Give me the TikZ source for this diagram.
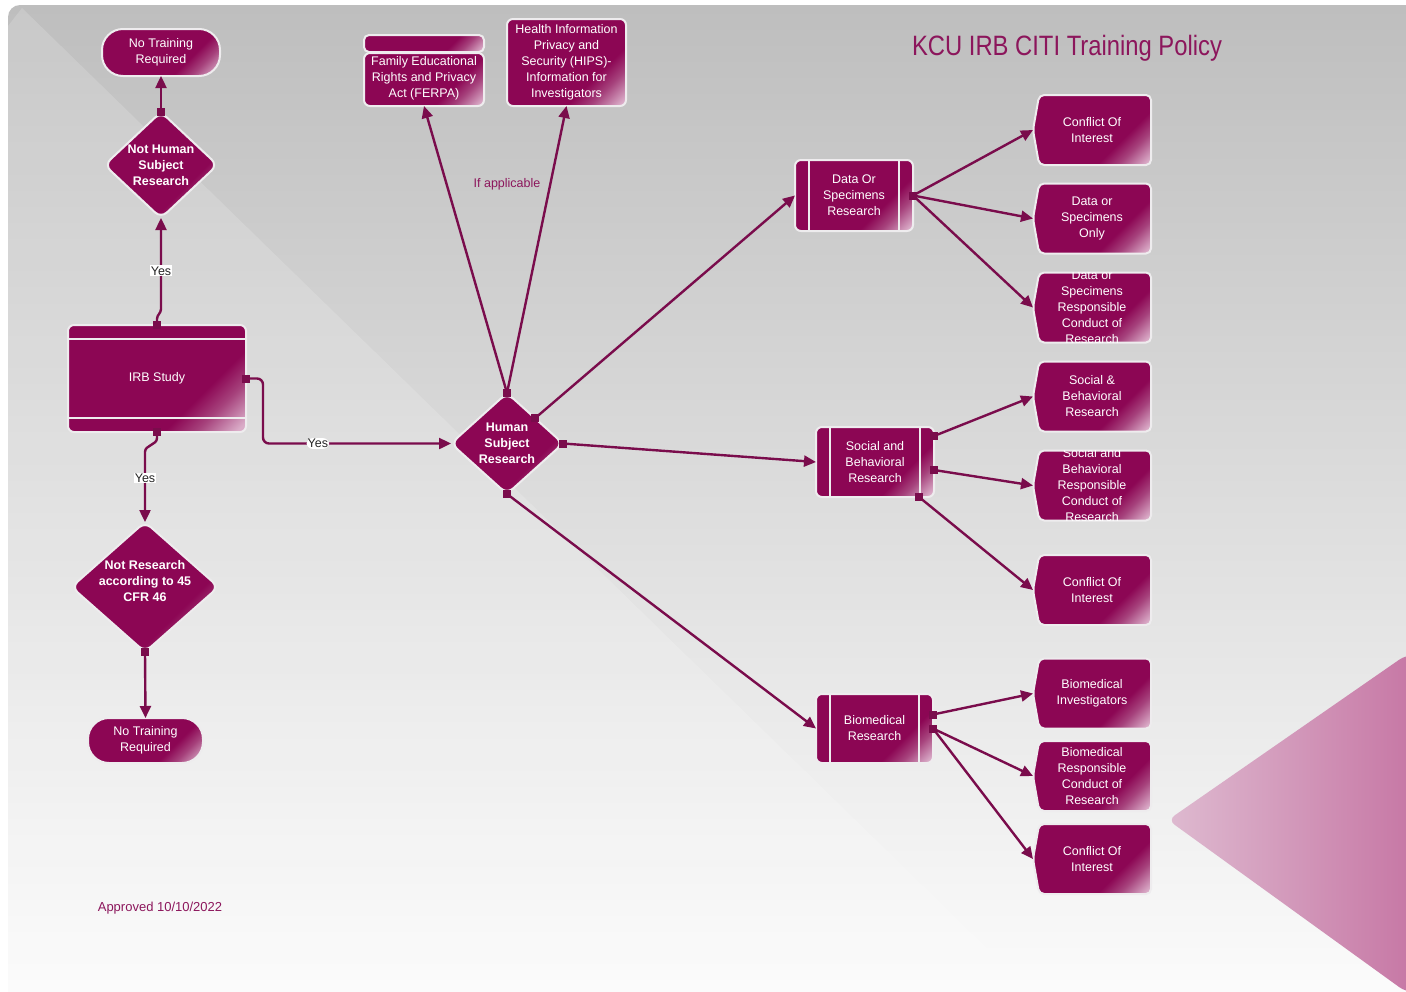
\documentclass[tikz,border=0pt]{standalone}
\usepackage{fontspec}
\setmainfont{Liberation Sans}
\usetikzlibrary{arrows.meta,shapes.geometric,shapes.symbols,calc}
\definecolor{mag}{RGB}{140,6,84}
\definecolor{linec}{RGB}{122,12,76}
\definecolor{titlec}{RGB}{140,22,92}
\definecolor{edgec}{RGB}{238,236,238}
\definecolor{magB}{RGB}{166,66,124}
\definecolor{lightmag}{RGB}{218,172,200}
\definecolor{bgtop}{RGB}{190,190,190}
\definecolor{bgbot}{RGB}{253,253,253}
\definecolor{pinkL}{RGB}{222,186,208}
\definecolor{pinkR}{RGB}{196,112,160}
\pgfdeclarehorizontalshading{boxsh}{100bp}{color(0bp)=(mag); color(65bp)=(mag); color(73bp)=(magB); color(83bp)=(lightmag); color(100bp)=(lightmag)}
\newcommand{\startsq}[1]{\fill[linec] ($(#1)+(-4pt,-4pt)$) rectangle ($(#1)+(4pt,4pt)$);}
\begin{document}
\begin{tikzpicture}[x=1pt,y=-1pt,
  base/.style={shade, shading=boxsh, shading angle=-45, draw=edgec, line width=2pt, inner sep=0pt, outer sep=0pt},
  pill/.style={base, rectangle, rounded corners=21pt},
  rbox/.style={base, rectangle, rounded corners=6pt},
  dia/.style={base, diamond, rounded corners=8pt},
  sig/.style={base, signal, signal to=west, signal from=nowhere, signal pointer angle=160, rounded corners=5pt, minimum width=118pt, minimum height=70pt, anchor=west},
  txt/.style={text=white, align=center, font=\fontsize{12.5}{16}\selectfont, inner sep=0pt},
  btxt/.style={text=white, align=center, font=\bfseries\fontsize{12.5}{16}\selectfont, inner sep=0pt},
  conn/.style={draw=linec, line width=2.4pt, -{Triangle[length=12pt,width=11pt]}},
  yes/.style={fill=white, text=black!85, inner sep=1pt, font=\fontsize{12.5}{14}\selectfont},
  sep/.style={draw=edgec, line width=1.6pt}
]
\useasboundingbox (0,0) rectangle (1406,991);
% background
\fill[white] (0,0) rectangle (1406,991);
\shade[top color=bgtop, bottom color=bgbot, rounded corners=12pt] (8,5) rectangle (1440,1020);
\fill[white, opacity=0.16] (8,26) -- (22,8) -- (1040,1000) -- (8,1000) -- cycle;
\shade[left color=pinkL, right color=pinkR, rounded corners=8pt] (1406,655) -- (1168,820) -- (1406,992) -- (1440,992) -- (1440,655) -- cycle;

% title
\node[text=titlec, font=\fontsize{28}{32}\selectfont] (title) at (1067,48) {\scalebox{0.85}[1]{KCU IRB CITI Training Policy}};
\node[text=titlec, font=\fontsize{13}{16}\selectfont] (approved) at (160,908) {Approved 10/10/2022};

% left column
\node[pill, minimum width=118pt, minimum height=47pt] (ntr1) at (161,52.5) {};
\node[txt] (ntr1t) at (ntr1.center) {No Training\\Required};
\node[dia, minimum width=113pt, minimum height=106pt] (nhsr) at (161,165) {};
\node[btxt] (nhsrt) at (nhsr.center) {Not Human\\Subject\\Research};
\node[rbox, minimum width=178pt, minimum height=107pt] (irb) at (157,378.5) {};
\draw[sep] ([yshift=-14pt]irb.north west) -- ([yshift=-14pt]irb.north east);
\draw[sep] ([yshift=14pt]irb.south west) -- ([yshift=14pt]irb.south east);
\node[txt] (irbt) at (irb.center) {IRB Study};
\node[dia, minimum width=147pt, minimum height=130pt] (nr) at (145,587) {};
\node[btxt] (nrt) at (145,581) {Not Research\\according to 45\\CFR 46};
\node[pill, minimum width=115pt, minimum height=45pt] (ntr2) at (145.5,740.5) {};
\node[txt] (ntr2t) at (ntr2.center) {No Training\\Required};

% middle
\node[dia, minimum width=112pt, minimum height=101pt] (hsr) at (507,443.5) {};
\node[btxt] (hsrt) at (hsr.center) {Human\\Subject\\Research};
\node[rbox, rounded corners=5pt, minimum width=120pt, minimum height=17pt] (ferpah) at (424,43.5) {};
\node[rbox, minimum width=120pt, minimum height=53pt] (ferpa) at (424,79.5) {};
\node[txt] (ferpat) at (424,78.5) {Family Educational\\Rights and Privacy\\Act (FERPA)};
\node[rbox, minimum width=119pt, minimum height=87pt] (hips) at (566.5,62.5) {};
\node[txt] (hipst) at (566.5,62) {Health Information\\Privacy and\\Security (HIPS)-\\Information for\\Investigators};
\node[text=titlec, font=\fontsize{12.5}{16}\selectfont] (ifapp) at (507,184) {If applicable};

% process boxes
\node[rbox, minimum width=118pt, minimum height=71pt] (dsr) at (854,195.5) {};
\node[rbox, minimum width=118pt, minimum height=70pt] (sbr) at (875,462) {};
\node[rbox, minimum width=117pt, minimum height=69pt] (br) at (874.5,728.5) {};
\foreach \n in {dsr,sbr,br}{
  \draw[sep] ([xshift=14pt]\n.north west) -- ([xshift=14pt]\n.south west);
  \draw[sep] ([xshift=-14pt]\n.north east) -- ([xshift=-14pt]\n.south east);
}
\node[txt] (dsrt) at (dsr.center) {Data Or\\Specimens\\Research};
\node[txt] (sbrt) at (sbr.center) {Social and\\Behavioral\\Research};
\node[txt] (brt) at (br.center) {Biomedical\\Research};

% right column
\node[sig] (coi1) at (1033,130) {};
\node[sig] (dso) at (1033,218.5) {};
\node[sig] (dsrcr) at (1033,307.5) {};
\node[sig] (sbres) at (1033,396.5) {};
\node[sig] (sbrcr) at (1033,485.5) {};
\node[sig] (coi2) at (1033,590) {};
\node[sig] (bi) at (1033,693.5) {};
\node[sig] (brcr) at (1033,776) {};
\node[sig] (coi3) at (1033,859) {};
\node[txt] (coi1t) at ($(coi1.west)!.5!(coi1.east)$) {Conflict Of\\Interest};
\node[txt] (dsot) at ($(dso.west)!.5!(dso.east)$) {Data or\\Specimens\\Only};
\begin{scope}
\clip (dsrcr.west |- dsrcr.north) rectangle (dsrcr.east |- dsrcr.south);
\node[txt] (dsrcrt) at ($(dsrcr.west)!.5!(dsrcr.east)$) {Data or\\Specimens\\Responsible\\Conduct of\\Research};
\end{scope}
\node[txt] (sbrest) at ($(sbres.west)!.5!(sbres.east)$) {Social \&\\Behavioral\\Research};
\begin{scope}
\clip (sbrcr.west |- sbrcr.north) rectangle (sbrcr.east |- sbrcr.south);
\node[txt] (sbrcrt) at ($(sbrcr.west)!.5!(sbrcr.east)$) {Social and\\Behavioral\\Responsible\\Conduct of\\Research};
\end{scope}
\node[txt] (coi2t) at ($(coi2.west)!.5!(coi2.east)$) {Conflict Of\\Interest};
\node[txt] (bit) at ($(bi.west)!.5!(bi.east)$) {Biomedical\\Investigators};
\node[txt] (brcrt) at ($(brcr.west)!.5!(brcr.east)$) {Biomedical\\Responsible\\Conduct of\\Research};
\node[txt] (coi3t) at ($(coi3.west)!.5!(coi3.east)$) {Conflict Of\\Interest};

% connectors
\draw[conn] (nhsr.north) -- (ntr1.south);
\draw[conn] (irb.north) -- ++(0,-6) to[out=90,in=-90] ++(4,-10) -- node[yes, pos=0.42] (yes1) {Yes} (nhsr.south);
\draw[conn] (irb.south) -- ++(0,6) to[out=-90,in=90] ++(-12,14) -- node[yes, pos=0.37] (yes2) {Yes} (nr.north);
\draw[conn, rounded corners=6pt] (irb.east) -- ++(17,0) |- node[yes, pos=0.646] (yes3) {Yes} (hsr.west);
\draw[conn] (nr.south) -- (ntr2.north);
\draw[conn] (hsr.north) -- (ferpa.south);
\draw[conn] (hsr.north) -- (hips.south);
\draw[conn] (hsr.north east) -- (dsr.west);
\draw[conn] (hsr.east) -- (sbr.west);
\draw[conn] (hsr.south) -- (br.west);
\draw[conn] (dsr.east) -- (coi1.west);
\draw[conn] (dsr.east) -- (dso.west);
\draw[conn] (dsr.east) -- (dsrcr.west);
\draw[conn] ([yshift=26pt]sbr.east) -- (sbres.west);
\draw[conn] ([yshift=-8pt]sbr.east) -- (sbrcr.west);
\draw[conn] ([xshift=-15pt]sbr.south east) -- (coi2.west);
\draw[conn] ([yshift=14pt]br.east) -- (bi.west);
\draw[conn] (br.east) -- (brcr.west);
\draw[conn] (br.east) -- (coi3.west);
% start squares
\startsq{nhsr.north}
\startsq{irb.north}
\startsq{irb.south}
\startsq{irb.east}
\startsq{nr.south}
\startsq{hsr.north}
\startsq{hsr.north east}
\startsq{hsr.east}
\startsq{hsr.south}
\startsq{dsr.east}
\startsq{[yshift=26pt]sbr.east}
\startsq{[yshift=-8pt]sbr.east}
\startsq{[xshift=-15pt]sbr.south east}
\startsq{[yshift=14pt]br.east}
\startsq{br.east}
\end{tikzpicture}
\end{document}
